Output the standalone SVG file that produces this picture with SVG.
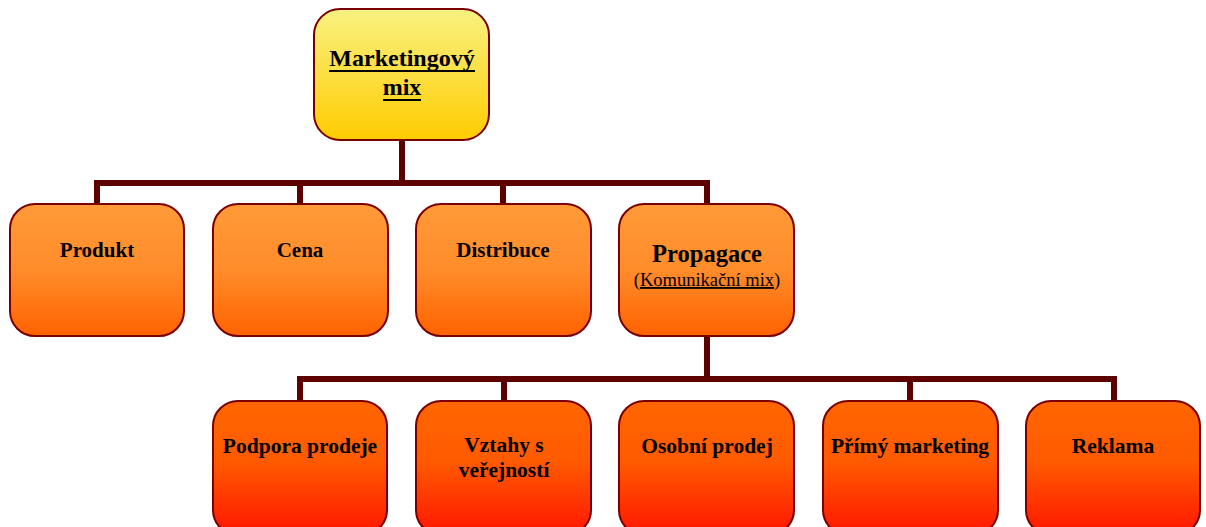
<svg xmlns="http://www.w3.org/2000/svg" width="1206" height="527" viewBox="0 0 1206 527">
<defs>
<linearGradient id="gY" x1="0" y1="0" x2="0" y2="1"><stop offset="0" stop-color="#f8f282"/><stop offset="1" stop-color="#ffcc00"/></linearGradient>
<linearGradient id="gO" x1="0" y1="0" x2="0" y2="1"><stop offset="0" stop-color="#ff9a38"/><stop offset="0.5" stop-color="#ff8c2a"/><stop offset="1" stop-color="#ff6200"/></linearGradient>
<linearGradient id="gR" x1="0" y1="0" x2="0" y2="1"><stop offset="0" stop-color="#ff6600"/><stop offset="0.45" stop-color="#ff5a00"/><stop offset="1" stop-color="#ff1600"/></linearGradient>
<style>
.box{stroke:#7a0000;stroke-width:2}
.t{font-family:"Liberation Serif","Times New Roman",serif;font-weight:bold;fill:#000;text-anchor:middle}
.s{font-family:"Liberation Serif","Times New Roman",serif;fill:#000;text-anchor:middle}
.c{fill:none;stroke:#5c0000;stroke-width:6;stroke-linejoin:miter}
</style>
</defs>
<g id="connectors">
<path class="c" d="M402 140V183M97 204V183H707V204M300 183V204M503 183V204"/>
<path class="c" d="M707 336V379M300 401V379H1114V401M504 379V401M910 379V401"/>
</g>
<g id="marketingovy-mix">
<rect class="box" x="314" y="9" width="175" height="131" rx="26" fill="url(#gY)"/>
<text class="t" x="402" y="66" font-size="24">Marketingový</text>
<text class="t" x="402" y="95" font-size="24">mix</text>
<path d="M329 71H475M383 100H421" stroke="#000" stroke-width="2"/>
</g>
<g id="produkt">
<rect class="box" x="10" y="204" width="174" height="132" rx="25" fill="url(#gO)"/>
<text class="t" x="97" y="257" font-size="21">Produkt</text>
</g>
<g id="cena">
<rect class="box" x="213" y="204" width="175" height="132" rx="25" fill="url(#gO)"/>
<text class="t" x="300" y="257" font-size="21">Cena</text>
</g>
<g id="distribuce">
<rect class="box" x="416" y="204" width="175" height="132" rx="25" fill="url(#gO)"/>
<text class="t" x="503" y="257" font-size="21">Distribuce</text>
</g>
<g id="propagace">
<rect class="box" x="619" y="204" width="175" height="132" rx="25" fill="url(#gO)"/>
<text class="t" x="707" y="262" font-size="24.5">Propagace</text>
<text class="s" x="707" y="286" font-size="18.5">(<tspan text-decoration="underline">Komunikační mix</tspan>)</text>
</g>
<g id="podpora-prodeje">
<rect class="box" x="213" y="401" width="174" height="134" rx="25" fill="url(#gR)"/>
<text class="t" x="300" y="453" font-size="21.5">Podpora prodeje</text>
</g>
<g id="vztahy-s-verejnosti">
<rect class="box" x="416" y="401" width="175" height="134" rx="25" fill="url(#gR)"/>
<text class="t" x="504" y="452" font-size="21.5">Vztahy s</text>
<text class="t" x="504" y="477" font-size="21.5">veřejností</text>
</g>
<g id="osobni-prodej">
<rect class="box" x="619" y="401" width="175" height="134" rx="25" fill="url(#gR)"/>
<text class="t" x="707" y="453" font-size="21.5">Osobní prodej</text>
</g>
<g id="primy-marketing">
<rect class="box" x="823" y="401" width="175" height="134" rx="25" fill="url(#gR)"/>
<text class="t" x="910" y="453" font-size="21.5">Přímý marketing</text>
</g>
<g id="reklama">
<rect class="box" x="1026" y="401" width="174" height="134" rx="25" fill="url(#gR)"/>
<text class="t" x="1113" y="453" font-size="21.5">Reklama</text>
</g>
</svg>
